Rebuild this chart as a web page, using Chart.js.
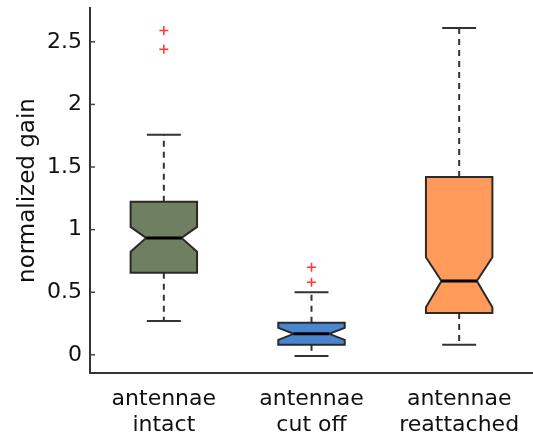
<!DOCTYPE html>
<html>
<head>
<meta charset="utf-8">
<script src="https://cdn.jsdelivr.net/npm/chart.js@4/dist/chart.umd.min.js"></script>
<style>
  html, body { margin: 0; padding: 0; background: #fff; }
  #wrap { width: 533px; height: 446px; }
</style>
</head>
<body>
<div id="wrap"><canvas id="chart"></canvas></div>
<script>
let categories = [["antennae", "intact"], ["antennae", "cut off"], ["antennae", "reattached"]];
let lowerWhisker = [0.27, -0.01, 0.08];
let q1 = [0.655, 0.08, 0.335];
let median = [0.934, 0.168, 0.59];
let q3 = [1.222, 0.256, 1.42];
let upperWhisker = [1.757, 0.5, 2.61];
let notchLow = [0.823, 0.12, 0.38];
let notchHigh = [1.022, 0.215, 0.78];
let outliers = [[2.59, 2.44], [0.7, 0.58], []];
let yTicks = [0, 0.5, 1, 1.5, 2, 2.5];
let boxColors = ["#6e7f62", "#4a86cf", "#ff9a5a"];

let outlierPoints = [];
outliers.forEach((list, i) => {
  list.forEach((v) => outlierPoints.push({ x: i + 1, y: v }));
});

// boxes, notches and whiskers, drawn from the chart scales
let boxPlugin = {
  id: "boxes",
  beforeDatasetsDraw(chart) {
    let ctx = chart.ctx;
    let xs = chart.scales.x;
    let ys = chart.scales.y;
    let area = chart.chartArea;
    ctx.save();

    // inward tick marks on the y axis
    ctx.strokeStyle = "#444";
    ctx.lineWidth = 1.5;
    yTicks.forEach((t) => {
      let y = ys.getPixelForValue(t);
      ctx.beginPath();
      ctx.moveTo(area.left, y);
      ctx.lineTo(area.left + 5, y);
      ctx.stroke();
    });

    for (let i = 0; i < categories.length; i++) {
      let c = i + 1;
      let xc = xs.getPixelForValue(c);
      let xl = xs.getPixelForValue(c - 0.225);
      let xr = xs.getPixelForValue(c + 0.225);
      let nl = xs.getPixelForValue(c - 0.12);
      let nr = xs.getPixelForValue(c + 0.12);
      let cl = xs.getPixelForValue(c - 0.115);
      let cr = xs.getPixelForValue(c + 0.115);
      let yq1 = ys.getPixelForValue(q1[i]);
      let yq3 = ys.getPixelForValue(q3[i]);
      let ym = ys.getPixelForValue(median[i]);
      let ynl = ys.getPixelForValue(notchLow[i]);
      let ynh = ys.getPixelForValue(notchHigh[i]);
      let ylw = ys.getPixelForValue(lowerWhisker[i]);
      let yuw = ys.getPixelForValue(upperWhisker[i]);

      // whiskers
      ctx.strokeStyle = "#333";
      ctx.lineWidth = 2;
      ctx.setLineDash([6, 5]);
      ctx.beginPath();
      ctx.moveTo(xc, yq3);
      ctx.lineTo(xc, yuw);
      ctx.moveTo(xc, yq1);
      ctx.lineTo(xc, ylw);
      ctx.stroke();
      ctx.setLineDash([]);
      ctx.beginPath();
      ctx.moveTo(cl, yuw);
      ctx.lineTo(cr, yuw);
      ctx.moveTo(cl, ylw);
      ctx.lineTo(cr, ylw);
      ctx.stroke();

      // notched box
      ctx.beginPath();
      ctx.moveTo(xl, yq3);
      ctx.lineTo(xr, yq3);
      ctx.lineTo(xr, ynh);
      ctx.lineTo(nr, ym);
      ctx.lineTo(xr, ynl);
      ctx.lineTo(xr, yq1);
      ctx.lineTo(xl, yq1);
      ctx.lineTo(xl, ynl);
      ctx.lineTo(nl, ym);
      ctx.lineTo(xl, ynh);
      ctx.closePath();
      ctx.fillStyle = boxColors[i];
      ctx.fill();
      ctx.strokeStyle = "#2a2a2a";
      ctx.lineWidth = 2;
      ctx.lineJoin = "miter";
      ctx.stroke();

      // median
      ctx.strokeStyle = "#000";
      ctx.lineWidth = 3;
      ctx.beginPath();
      ctx.moveTo(nl, ym);
      ctx.lineTo(nr, ym);
      ctx.stroke();
    }
    ctx.restore();
  },
};

let chart = new Chart(document.getElementById("chart").getContext("2d"), {
  type: "scatter",
  data: {
    datasets: [
      {
        label: "outliers",
        data: outlierPoints,
        pointStyle: "cross",
        radius: 4.5,
        borderColor: "#ff3b2f",
        borderWidth: 1.6,
        backgroundColor: "#ff3b2f",
      },
    ],
  },
  options: {
    responsive: true,
    maintainAspectRatio: false,
    animation: false,
    layout: { autoPadding: false, padding: { top: 8, right: 0, left: 0, bottom: 0 } },
    scales: {
      x: {
        type: "linear",
        min: 0.5,
        max: 3.5,
        afterBuildTicks: (axis) => {
          axis.ticks = [1, 2, 3].map((v) => ({ value: v }));
        },
        afterFit: (axis) => {
          axis.height = 73;
          axis.paddingLeft = 0;
          axis.paddingRight = 0;
        },
        grid: { display: false, drawTicks: false },
        border: { display: true, color: "#333", width: 2 },
        ticks: {
          color: "#111",
          font: { family: "DejaVu Sans", size: 22, lineHeight: 1.15 },
          padding: 14,
          maxRotation: 0,
          callback: (v) => categories[v - 1],
        },
      },
      y: {
        min: -0.145,
        max: 2.77,
        afterBuildTicks: (axis) => {
          axis.ticks = yTicks.map((v) => ({ value: v }));
        },
        afterFit: (axis) => {
          axis.width = 90;
          axis.paddingTop = 0;
          axis.paddingBottom = 0;
        },
        grid: { display: false, drawTicks: false },
        border: { display: true, color: "#333", width: 2 },
        ticks: {
          color: "#111",
          font: { family: "DejaVu Sans", size: 22 },
          padding: 8,
          callback: (v) => String(v),
        },
        title: {
          display: true,
          text: "normalized gain",
          color: "#111",
          font: { family: "DejaVu Sans", size: 23 },
          padding: { top: 14, bottom: 0 },
        },
      },
    },
    plugins: {
      legend: { display: false },
      tooltip: { enabled: false },
    },
  },
  plugins: [boxPlugin],
});
</script>
</body>
</html>
